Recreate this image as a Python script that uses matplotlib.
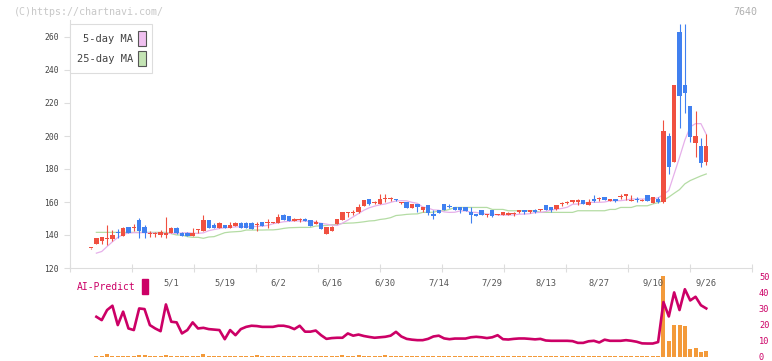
import numpy as np
import matplotlib
matplotlib.use("Agg")
import matplotlib.pyplot as plt
from matplotlib.patches import Patch, Rectangle

plt.rcParams['font.family'] = ['DejaVu Sans Mono']

# daily candles (index 0 = first trading day shown)
open_ = [132, 134.6, 136.4, 137.5, 137.6, 142, 139.6, 144.8, 144, 149, 145, 140.4, 140.6, 139.8, 140, 141.4, 144.4, 141.4, 141.4, 139.6,
         143, 142.7, 149.1, 146.1, 144.5, 146.1, 144.5, 145.5, 147.5, 147.5, 147.5, 146, 147.9, 147.4, 147.3, 147.5, 152.1, 151.5, 148.7, 149.1,
         149.9, 149.1, 146.7, 147.1, 140.6, 142.6, 146.7, 149.1, 153.5, 153.5, 153.7, 157.8, 161.8, 159.6, 158.8, 161.6, 161.6, 161.8, 159.6, 159.8,
         156.5, 158.8, 155.1, 158.2, 152.7, 155.1, 158.8, 157.7, 156.7, 156.7, 156.7, 153.7, 152.7, 155.1, 151.9, 155.1, 152.1, 152.1, 152.1, 153,
         153.7, 155.1, 153.7, 155.1, 154.9, 158.2, 156.7, 155.5, 158.6, 159.6, 159.8, 159.8, 161.2, 158.2, 161.8, 161.6, 162.8, 160.8, 161.8, 163.1,
         163.8, 160.9, 161.8, 160.9, 164.2, 159.6, 162, 160, 200, 184.4, 263.2, 230.9, 218.1, 195.5, 193.9, 184.4]
close = [132.2, 138.2, 138.9, 138.3, 140, 141, 144.4, 141.4, 144.4, 142.4, 141, 141.4, 141.2, 141.6, 141, 144.4, 141, 139.6, 139.6, 141.4,
         143.2, 149.1, 144.5, 144.5, 147.5, 144.5, 146.1, 147.5, 144.5, 144.5, 143.7, 146.2, 145.5, 147.6, 147.8, 150.7, 149.1, 148.7, 149.9, 149.9,
         148.7, 145.7, 148.1, 143.6, 144.6, 145, 149.7, 153.7, 153.7, 153.7, 156.8, 161.2, 158.6, 159.8, 161.8, 161.8, 161.8, 161, 159.8, 156.5,
         158.8, 156.7, 156.7, 153.5, 151.7, 153.5, 155.1, 156.7, 155.1, 155.1, 154.7, 152.1, 151.7, 152.1, 152.3, 151.7, 152.7, 153.7, 153.1, 153.3,
         155.1, 153.7, 155.1, 153.7, 155.3, 155.1, 155.1, 158.2, 159, 159.9, 161.2, 161.2, 158.8, 160.2, 160.8, 161.9, 161.2, 161.8, 160.8, 163.4,
         164.8, 161.2, 161.2, 161.2, 160.8, 162.8, 160, 203, 181, 230.9, 224.4, 225.8, 199.5, 199.9, 183.8, 193.9]
high = [132.3, 138.3, 139, 146, 143, 143.4, 144.6, 145, 146.4, 150, 146, 142.4, 142, 143, 151, 144.6, 144.6, 141.6, 141.6, 144.4,
        143.4, 152.1, 149.3, 147.5, 148.1, 146.3, 148.1, 147.7, 147.7, 147.7, 147.7, 147.9, 148.1, 149.9, 147.9, 152.7, 152.5, 151.8, 150, 150,
        150.1, 149.3, 149.1, 147.3, 144.8, 145.2, 149.9, 153.9, 153.9, 155.1, 158.6, 161.4, 162, 160.4, 164.6, 164.6, 162.8, 162, 160, 160,
        159, 159, 157.1, 158.4, 155.1, 155.3, 159, 158.8, 156.9, 156.9, 156.9, 157.1, 152.9, 155.3, 152.7, 155.3, 152.9, 153.9, 153.7, 153.7,
        155.3, 155.3, 155.3, 155.7, 155.5, 158.4, 156.9, 158.4, 159.8, 160.4, 161.4, 161.8, 161.4, 161.8, 164.2, 162.8, 163, 162, 162, 164.6,
        165, 164.2, 162.8, 161.8, 164.4, 163, 163, 209.6, 201.6, 231, 267.8, 267.8, 218.3, 215, 198.5, 201.2]
low = [131.8, 134.5, 134.8, 133.9, 136.3, 138, 139.4, 141.2, 142.4, 138.3, 138, 138.6, 138.6, 138.6, 138.3, 141.2, 140.8, 139.4, 139.4, 139.4,
       141, 142.5, 144.3, 144.3, 144.1, 144.3, 144.3, 145.3, 144.3, 144.3, 143.5, 142.7, 145.3, 144.5, 147.1, 147.3, 148.9, 148.5, 148.5, 147.8,
       148.5, 145.5, 146.5, 143.4, 140.4, 142.4, 146.5, 148.9, 151.1, 152.1, 153.5, 157.6, 158.4, 158.6, 158.6, 159.8, 160.8, 160.8, 158.6, 156.3,
       156.3, 153.7, 154.1, 152.1, 149.5, 153.3, 154.9, 156.5, 154.9, 153.5, 154.5, 147, 151.5, 151.9, 150.7, 150.7, 151.9, 151.9, 151.9, 151.7,
       153.5, 152.7, 153.5, 153.5, 154.7, 154.9, 153.7, 155.3, 157.7, 158.8, 159.6, 158.2, 158.6, 158, 159.8, 160.8, 161, 160.6, 159.8, 161.8,
       161.2, 160.8, 159.8, 160.8, 160.6, 159.4, 159.5, 159.5, 176.7, 184.2, 204.6, 213.7, 196.5, 187.4, 181.4, 182.4]

ma5 = [np.nan, 129, 130, 133, 135.9, 138.5, 140.3, 141.2, 141.4, 141.4, 141.4, 141.3, 141.1, 141, 141, 141, 141, 141.2, 141.4, 141.1,
       141, 141.3, 142.6, 143.3, 143.9, 144.4, 144.6, 144.9, 145, 145, 145, 145.2, 145.4, 145.8, 146.8, 147.4, 148, 148.3, 148.5, 148.5,
       148.4, 148.3, 147.8, 147.1, 146.6, 146, 145.8, 147.2, 149, 151, 153, 155, 156.5, 157.5, 158.3, 158.8, 159.8, 160.6, 160.8, 160.7,
       159.8, 159.2, 157, 156.3, 155.2, 155, 154, 153.7, 153.8, 154.6, 154.6, 153.8, 153.7, 153, 152.7, 152.6, 152.2, 152.1, 152.1, 152.2,
       152.6, 152.7, 152.9, 153.6, 153.7, 154.2, 155.1, 155.6, 156.1, 156.8, 158.6, 158.8, 159.2, 159.8, 159.8, 159.8, 160, 160.7, 160.8, 160.8,
       161.2, 161.8, 161.8, 161.8, 161.8, 162, 162.5, 164.5, 167, 177, 187, 197.5, 205.5, 207.5, 207.5, 201]
ma25 = [np.nan, 141.6, 141.6, 141.6, 141.6, 141.6, 141.6, 141.6, 141.6, 141.6, 141.6, 141.6, 141.6, 141.6, 141.6, 140.8, 140, 140, 139, 138.6,
        138.6, 138, 138.8, 139, 140.2, 141.4, 141.8, 142, 142.2, 143, 143, 143, 143, 143.1, 143.1, 143.4, 144, 144.4, 144.5, 144.6,
        144.6, 144.6, 145.4, 145.6, 145.8, 146.2, 146.4, 147, 147.2, 147.3, 147.6, 148, 148.5, 148.7, 149.4, 149.8, 150.5, 151.8, 152.1, 152.5,
        152.7, 152.8, 153.7, 153.7, 153.8, 154.7, 154.7, 155.5, 156.7, 156.7, 156.7, 156.7, 156.7, 156.7, 156.7, 155.5, 155.5, 155.5, 154.7, 154.7,
        154.7, 154.7, 154.7, 154.7, 153.7, 153.7, 153.7, 153.7, 153.7, 153.7, 153.7, 154.7, 154.7, 154.7, 154.7, 154.7, 154.7, 155.5, 155.5, 156.7,
        156.7, 156.7, 157.7, 157.7, 157.7, 158.8, 159.6, 161, 163, 165.3, 167.5, 171, 173, 174.4, 175.8, 177]

# AI-Predict panel (starts at day index 1)
ai_line = [24.8, 22.7, 29, 31.7, 19.6, 28, 17.5, 16.5, 30, 29.6,
           19.6, 17.5, 15.8, 32.5, 21.7, 21.3, 14.4, 16.5, 21.3, 17.5,
           17.9, 17.1, 16.8, 16.5, 10.8, 16.5, 13.3, 17.1, 18.5, 19.2,
           19, 18.5, 18.5, 18.5, 19.2, 19.2, 18.5, 17.1, 19.2, 15.5,
           15.5, 16.2, 13.3, 11, 11.5, 11.7, 11.7, 14.4, 13, 13.7,
           12.8, 12.2, 11.7, 12, 12.3, 13, 15.4, 12.5, 11, 10.5,
           10.2, 10.2, 11, 12.5, 13, 11.3, 10.8, 11.2, 11.2, 11.2,
           12, 12.3, 12, 11.5, 12, 13.3, 10.8, 10.6, 11, 11.25,
           11.25, 11, 10.7, 11, 10, 9.8, 9.8, 9.8, 9.8, 9.6,
           8.5, 8.5, 9.5, 9.8, 8.75, 10.5, 9.8, 9.8, 9.8, 10.2,
           9.8, 9.2, 8.2, 8.1, 8.1, 9, 34, 25, 40, 29,
           42, 35, 37.3, 32, 30]
ai_bars = [0.6, 0.6, 1.8, 0.6, 0.6, 0.6, 0.6, 0.6, 1.2, 1.0,
           0.6, 0.6, 0.6, 1.2, 0.6, 0.6, 0.6, 0.6, 0.6, 0.6,
           1.8, 0.6, 0.6, 0.6, 0.6, 0.6, 0.6, 0.6, 0.6, 0.6,
           1.2, 0.6, 0.6, 0.6, 0.6, 0.6, 0.6, 0.6, 0.6, 0.6,
           0.6, 0.6, 0.6, 0.6, 0.6, 0.6, 1.0, 0.6, 0.6, 1.2,
           0.6, 0.6, 0.6, 0.6, 1.2, 0.6, 0.6, 0.6, 0.6, 0.6,
           0.6, 0.6, 0.6, 0.6, 0.6, 0.6, 0.6, 0.6, 0.6, 0.6,
           0.6, 0.6, 0.6, 0.6, 0.6, 0.6, 0.6, 0.6, 0.6, 0.6,
           0.6, 0.6, 0.6, 0.6, 0.6, 0.6, 0.6, 0.6, 0.6, 0.6,
           0.6, 0.6, 0.6, 0.6, 0.6, 0.6, 0.6, 0.6, 0.6, 0.6,
           0.6, 0.6, 0.6, 0.6, 0.6, 0.6, 50, 9.6, 19.6, 19.6,
           19.2, 4.4, 5, 2.5, 3.3]

date_pos = [15, 25, 35, 45, 55, 65, 75, 85, 95, 105, 115]
date_labels = ['5/1', '5/19', '6/2', '6/16', '6/30', '7/14', '7/29', '8/13', '8/27', '9/10', '9/26']

RED = '#f05040'
BLUE = '#4080f0'
PINK = '#e6b0ea'
GREEN = '#b4dca4'
MAGENTA = '#cc0066'
ORANGE = '#f39a3a'
GRID = '#dddddd'

o = np.array(open_)
c = np.array(close)
h = np.array(high)
l = np.array(low)
x = np.arange(len(o))
xa = np.arange(1, len(ai_line) + 1)
xlim = (-3.93, 123.55)

fig = plt.figure(figsize=(7.72, 3.61), dpi=100)
ax = fig.add_axes([70 / 772, 93 / 361, 682 / 772, 247.5 / 361])
ax2 = fig.add_axes([70 / 772, 4.5 / 361, 682 / 772, 86.5 / 361])

# candles
cols = np.where(c >= o, RED, BLUE)
ax.vlines(x, l, h, colors=cols, lw=0.8, zorder=3)
ax.bar(x, np.maximum(np.abs(c - o), 0.6), bottom=np.minimum(o, c), width=0.82,
       color=cols, zorder=4)
ax.plot(x, ma25, color=GREEN, lw=0.9, zorder=2)
ax.plot(x, ma5, color=PINK, lw=0.9, zorder=2)

ax.set_xlim(*xlim)
ax.set_ylim(120, 270)
ax.set_yticks(range(120, 261, 20))
ax.set_xticks(np.linspace(xlim[0], xlim[1], 12))
ax.tick_params(axis='x', direction='inout', length=6, color=GRID, labelbottom=False)
ax.tick_params(axis='y', length=4, color=GRID, labelsize=5.8, labelcolor='#444', pad=4)
for s in ['top', 'right']:
    ax.spines[s].set_visible(False)
for s in ['left', 'bottom']:
    ax.spines[s].set_color(GRID)

handles = [Patch(facecolor='#f0c0f0', edgecolor='#555555', lw=0.8, label='5-day MA'),
           Patch(facecolor='#c4e4b4', edgecolor='#555555', lw=0.8, label='25-day MA')]
leg = ax.legend(handles=handles, loc='upper left', bbox_to_anchor=(0, 0.986), borderaxespad=0,
                markerfirst=False, fontsize=7.5, handlelength=0.7, handleheight=1.9,
                handletextpad=0.5, labelspacing=0.45, fancybox=False, framealpha=1,
                edgecolor=GRID, borderpad=0.65)
for t in leg.get_texts():
    t.set_color('#444444')
leg.get_frame().set_linewidth(0.8)

# AI-Predict panel
ax2.bar(xa, ai_bars, width=0.75, color=ORANGE, zorder=2)
ax2.plot(xa, ai_line, color=MAGENTA, lw=1.9, zorder=3)
ax2.set_xlim(*xlim)
ax2.set_ylim(0, 54)
ax2.set_yticks(range(0, 51, 10))
ax2.yaxis.tick_right()
ax2.tick_params(axis='y', length=0, labelsize=6.2, labelcolor=MAGENTA, pad=5)
ax2.set_xticks([])
for s in ax2.spines.values():
    s.set_visible(False)
ax2.patch.set_alpha(0)
for p, lab in zip(date_pos, date_labels):
    ax2.text(p, 0.85, lab, transform=ax2.get_xaxis_transform(), ha='center', va='center',
             fontsize=6.3, color='#555555')

fig.text(77 / 772, 1 - 287 / 361, 'AI-Predict', color=MAGENTA, fontsize=7, va='center')
fig.patches.append(Rectangle((142 / 772, 1 - 294 / 361), 6 / 772, 15 / 361,
                             transform=fig.transFigure, color=MAGENTA))

fig.text(14 / 772, 1 - 12 / 361, '(C)https://chartnavi.com/', color='#c8c8c8', fontsize=7.2, va='center')
fig.text(757 / 772, 1 - 12 / 361, '7640', color='#b0b0b0', fontsize=7.2, va='center', ha='right')

fig.savefig('out.png', dpi=100)
